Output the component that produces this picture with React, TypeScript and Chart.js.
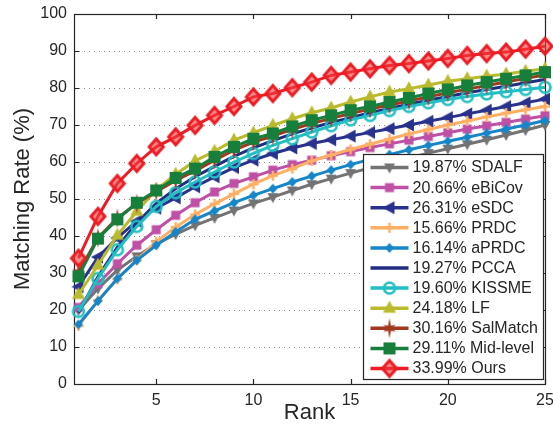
import React, { useEffect, useRef } from 'react';
import { Chart, registerables } from 'chart.js';
Chart.register(...registerables);

// ---------------- data ----------------
const ranks = [1, 2, 3, 4, 5, 6, 7, 8, 9, 10, 11, 12, 13, 14, 15, 16, 17, 18, 19, 20, 21, 22, 23, 24, 25];
const xTicks = [5, 10, 15, 20, 25];
const yTicks = [0, 10, 20, 30, 40, 50, 60, 70, 80, 90, 100];

const seriesNames = [
  '19.87% SDALF',
  '20.66% eBiCov',
  '26.31% eSDC',
  '15.66% PRDC',
  '16.14% aPRDC',
  '19.27% PCCA',
  '19.60% KISSME',
  '24.18% LF',
  '30.16% SalMatch',
  '29.11% Mid-level',
  '33.99% Ours',
];

const sdalf = [19.9, 25.8, 30.8, 34.5, 37.8, 40.5, 42.9, 44.9, 46.9, 48.8, 50.5, 52.3, 54.0, 55.5, 57.0, 58.4, 59.8, 61.1, 62.4, 63.6, 64.8, 66.0, 67.3, 68.6, 70.0];
const ebicov = [20.7, 27.1, 32.5, 37.5, 41.7, 45.6, 49.0, 51.9, 54.2, 56.0, 57.8, 59.3, 60.5, 61.7, 62.8, 63.9, 64.9, 65.9, 66.9, 67.9, 68.9, 69.8, 70.7, 71.6, 72.5];
const esdc = [26.3, 34.3, 39.5, 44.0, 47.5, 50.3, 53.3, 56.0, 58.5, 60.5, 62.3, 63.8, 65.0, 66.0, 67.0, 68.0, 69.0, 70.0, 71.0, 72.0, 73.0, 74.0, 75.0, 76.0, 77.0];
const prdc = [15.7, 22.6, 28.3, 33.5, 38.5, 42.4, 45.8, 48.7, 51.4, 54.0, 56.3, 58.2, 60.3, 61.9, 63.4, 64.8, 66.2, 67.6, 68.8, 70.0, 71.1, 72.2, 73.2, 74.1, 75.0];
const aprdc = [16.1, 22.4, 28.5, 33.4, 37.5, 41.1, 44.5, 46.8, 49.0, 51.0, 52.8, 54.6, 56.2, 57.8, 59.3, 60.7, 62.0, 63.3, 64.5, 65.6, 66.7, 67.8, 68.9, 70.0, 71.2];
const pcca = [19.3, 29.0, 37.0, 43.5, 48.8, 52.8, 56.0, 58.8, 61.5, 63.8, 65.8, 67.6, 69.2, 70.7, 72.0, 73.3, 74.5, 75.6, 76.7, 77.7, 78.7, 79.6, 80.5, 81.4, 82.3];
const kissme = [19.6, 28.5, 36.3, 42.6, 48.0, 51.7, 54.6, 57.3, 60.0, 62.3, 64.5, 66.3, 68.1, 69.8, 71.4, 72.6, 73.9, 75.0, 76.0, 76.9, 77.7, 78.4, 79.0, 79.6, 80.2];
const lf = [24.2, 32.1, 40.2, 46.7, 52.5, 56.7, 60.3, 62.9, 65.9, 67.9, 69.9, 71.7, 73.3, 74.6, 76.2, 77.6, 78.9, 79.8, 80.8, 81.8, 82.5, 83.2, 83.8, 84.5, 85.2];
const salmatch = [30.2, 39.5, 44.8, 48.8, 52.0, 55.0, 57.6, 60.5, 63.2, 65.4, 67.0, 68.8, 70.4, 71.8, 73.1, 74.3, 75.4, 76.5, 77.6, 78.7, 79.7, 80.7, 81.6, 82.6, 83.5];
const midlevel = [29.1, 39.3, 44.5, 49.0, 52.3, 55.7, 58.2, 61.4, 64.1, 66.3, 67.7, 69.6, 71.3, 72.6, 74.0, 75.0, 76.2, 77.3, 78.5, 79.6, 80.7, 81.6, 82.5, 83.4, 84.3];
const ours = [34.0, 45.3, 54.2, 59.6, 64.1, 66.8, 69.9, 72.6, 75.0, 77.6, 78.5, 80.1, 81.6, 83.4, 84.3, 85.2, 86.1, 86.6, 87.3, 88.0, 88.8, 89.3, 89.7, 90.5, 91.3];

const seriesValues = [sdalf, ebicov, esdc, prdc, aprdc, pcca, kissme, lf, salmatch, midlevel, ours];

// ---------------- styles ----------------
const seriesColors = ['#737373', '#be50a5', '#28328c', '#ffaf64', '#1786c8', '#222d82', '#22bec3', '#baba2e', '#a0391f', '#157f3b', '#ed1c24'];
const seriesMarkers = ['tridown', 'square', 'trileft', 'plus', 'diamond', 'none', 'ring', 'triup', 'star', 'bigsquare', 'bigdiamond'];

const FONT = '"Liberation Sans", Arial, Helvetica, sans-serif';
const TEXT = '#262626';

function poly(g: CanvasRenderingContext2D, pts: number[][]) {
  g.beginPath();
  g.moveTo(pts[0][0], pts[0][1]);
  for (let i = 1; i < pts.length; i++) g.lineTo(pts[i][0], pts[i][1]);
  g.closePath();
}

function makeMarker(kind: string, color: string): HTMLCanvasElement {
  const S = 24;
  const c = document.createElement('canvas');
  c.width = S;
  c.height = S;
  const g = c.getContext('2d')!;
  g.translate(S / 2, S / 2);
  g.fillStyle = color;
  g.strokeStyle = color;
  switch (kind) {
    case 'tridown':
      poly(g, [[-5.5, -4], [5.5, -4], [0, 6]]);
      g.fill();
      break;
    case 'square':
      g.fillRect(-4.5, -4.5, 9, 9);
      break;
    case 'trileft':
      poly(g, [[-7, 0], [5, -6.5], [5, 6.5]]);
      g.fill();
      break;
    case 'plus':
      g.lineWidth = 2.5;
      g.beginPath();
      g.moveTo(-5, 0); g.lineTo(5, 0);
      g.moveTo(0, -5); g.lineTo(0, 5);
      g.stroke();
      break;
    case 'diamond':
      poly(g, [[0, -5], [4.5, 0], [0, 5], [-4.5, 0]]);
      g.fill();
      break;
    case 'ring':
      g.beginPath();
      g.arc(0, 0, 5.5, 0, Math.PI * 2);
      g.lineWidth = 2.5;
      g.stroke();
      break;
    case 'triup':
      poly(g, [[0, -7.5], [6.5, 4.5], [-6.5, 4.5]]);
      g.fill();
      break;
    case 'star': {
      const pts: number[][] = [];
      for (let i = 0; i < 12; i++) {
        const a = -Math.PI / 2 + (i * Math.PI) / 6;
        let r = 3;
        if (i % 2 === 0) r = i === 0 || i === 6 ? 10 : 7;
        pts.push([Math.cos(a) * r, Math.sin(a) * r]);
      }
      poly(g, pts);
      g.fill();
      break;
    }
    case 'bigsquare':
      g.fillRect(-6, -6, 12, 12);
      break;
    case 'bigdiamond':
      poly(g, [[0, -8], [7, 0], [0, 8], [-7, 0]]);
      g.fillStyle = 'rgba(240,60,60,0.6)';
      g.fill();
      g.lineWidth = 3;
      g.lineJoin = 'miter';
      g.stroke();
      break;
    default:
      break;
  }
  return c;
}

export default function App() {
  const ref = useRef<HTMLCanvasElement | null>(null);

  useEffect(() => {
    if (!ref.current) return;
    const markers = seriesMarkers.map((m, i) => makeMarker(m, seriesColors[i]));

    const datasets = seriesValues.map((vals, i) => ({
      label: seriesNames[i],
      data: vals.map((v, j) => ({ x: ranks[j], y: v })),
      borderColor: seriesColors[i],
      backgroundColor: seriesColors[i],
      borderWidth: 3,
      tension: 0,
      pointStyle: seriesMarkers[i] === 'none' ? false : (markers[i] as any),
      pointRadius: seriesMarkers[i] === 'none' ? 0 : 5,
      clip: false as any,
      order: seriesValues.length - 1 - i,
    }));

    const framePlugin = {
      id: 'frame',
      beforeDatasetsDraw(chart: any) {
        const { ctx, chartArea: a, scales } = chart;
        ctx.save();
        ctx.strokeStyle = '#8a8a8a';
        ctx.lineWidth = 1;
        ctx.setLineDash([1, 4]);
        yTicks.forEach((v) => {
          if (v === 0 || v === 100) return;
          const y = Math.round(scales.y.getPixelForValue(v)) + 0.5;
          ctx.beginPath();
          ctx.moveTo(a.left, y);
          ctx.lineTo(a.right, y);
          ctx.stroke();
        });
        ctx.setLineDash([]);
        ctx.strokeStyle = '#262626';
        ctx.lineWidth = 1.2;
        ctx.strokeRect(Math.round(a.left) + 0.5, Math.round(a.top) + 0.5, Math.round(a.right - a.left), Math.round(a.bottom - a.top));
        const tl = 5;
        ctx.beginPath();
        xTicks.forEach((v) => {
          const x = Math.round(scales.x.getPixelForValue(v)) + 0.5;
          ctx.moveTo(x, a.bottom); ctx.lineTo(x, a.bottom - tl);
          ctx.moveTo(x, a.top); ctx.lineTo(x, a.top + tl);
        });
        yTicks.forEach((v) => {
          const y = Math.round(scales.y.getPixelForValue(v)) + 0.5;
          ctx.moveTo(a.left, y); ctx.lineTo(a.left + tl, y);
          ctx.moveTo(a.right, y); ctx.lineTo(a.right - tl, y);
        });
        ctx.stroke();
        ctx.restore();
      },
      afterDatasetsDraw(chart: any) {
        const { ctx, chartArea: a } = chart;
        ctx.save();
        const w = 180;
        const h = 225;
        const x0 = Math.round(a.right - 2 - w) + 0.5;
        const y0 = Math.round(a.bottom - 5 - h) + 0.5;
        ctx.fillStyle = '#ffffff';
        ctx.fillRect(x0, y0, w, h);
        ctx.strokeStyle = '#262626';
        ctx.lineWidth = 1.2;
        ctx.strokeRect(x0, y0, w, h);
        ctx.font = `16px ${FONT}`;
        ctx.textBaseline = 'middle';
        ctx.textAlign = 'left';
        seriesNames.forEach((name, i) => {
          const cy = y0 + 13 + i * 20.1;
          ctx.strokeStyle = seriesColors[i];
          ctx.lineWidth = 3.5;
          ctx.beginPath();
          ctx.moveTo(x0 + 7, cy);
          ctx.lineTo(x0 + 45, cy);
          ctx.stroke();
          if (seriesMarkers[i] !== 'none') {
            const m = markers[i];
            ctx.drawImage(m, x0 + 26 - m.width / 2, cy - m.height / 2);
          }
          ctx.fillStyle = TEXT;
          ctx.fillText(name, x0 + 49, cy + 0.5);
        });
        ctx.restore();
      },
    };

    const chart = new Chart(ref.current, {
      type: 'line',
      data: { datasets: datasets as any },
      options: {
        animation: false,
        responsive: false,
        maintainAspectRatio: false,
        layout: { padding: { top: 14, right: 8, left: 0, bottom: 0 } },
        plugins: { legend: { display: false }, tooltip: { enabled: false } },
        scales: {
          x: {
            type: 'linear',
            min: 0.77,
            max: 25,
            grid: { display: false, drawTicks: false },
            border: { display: false },
            afterBuildTicks: (s: any) => {
              s.ticks = xTicks.map((v) => ({ value: v }));
            },
            afterFit: (s: any) => {
              s.height = 44;
              s.paddingLeft = 0;
              s.paddingRight = 0;
            },
            ticks: { font: { size: 16, family: FONT }, color: TEXT, padding: 7, maxRotation: 0, autoSkip: false },
            title: { display: true, text: 'Rank', font: { size: 22, family: FONT }, color: TEXT, padding: { top: 0, bottom: 2 } },
          },
          y: {
            type: 'linear',
            min: 0,
            max: 100,
            grid: { display: false, drawTicks: false },
            border: { display: false },
            afterBuildTicks: (s: any) => {
              s.ticks = yTicks.map((v) => ({ value: v }));
            },
            afterFit: (s: any) => {
              s.width = 74;
              s.paddingTop = 0;
              s.paddingBottom = 0;
            },
            ticks: { font: { size: 16, family: FONT }, color: TEXT, padding: 7, autoSkip: false },
            title: { display: true, text: 'Matching Rate (%)', font: { size: 22, family: FONT }, color: TEXT, padding: { top: 10, bottom: 0 } },
          },
        },
      },
      plugins: [framePlugin],
    });
    return () => chart.destroy();
  }, []);

  return (
    <div style={{ position: 'absolute', left: 0, top: 0, width: 553, height: 428, background: '#fff' }}>
      <canvas ref={ref} width={553} height={428} style={{ width: 553, height: 428, display: 'block' }} />
    </div>
  );
}
